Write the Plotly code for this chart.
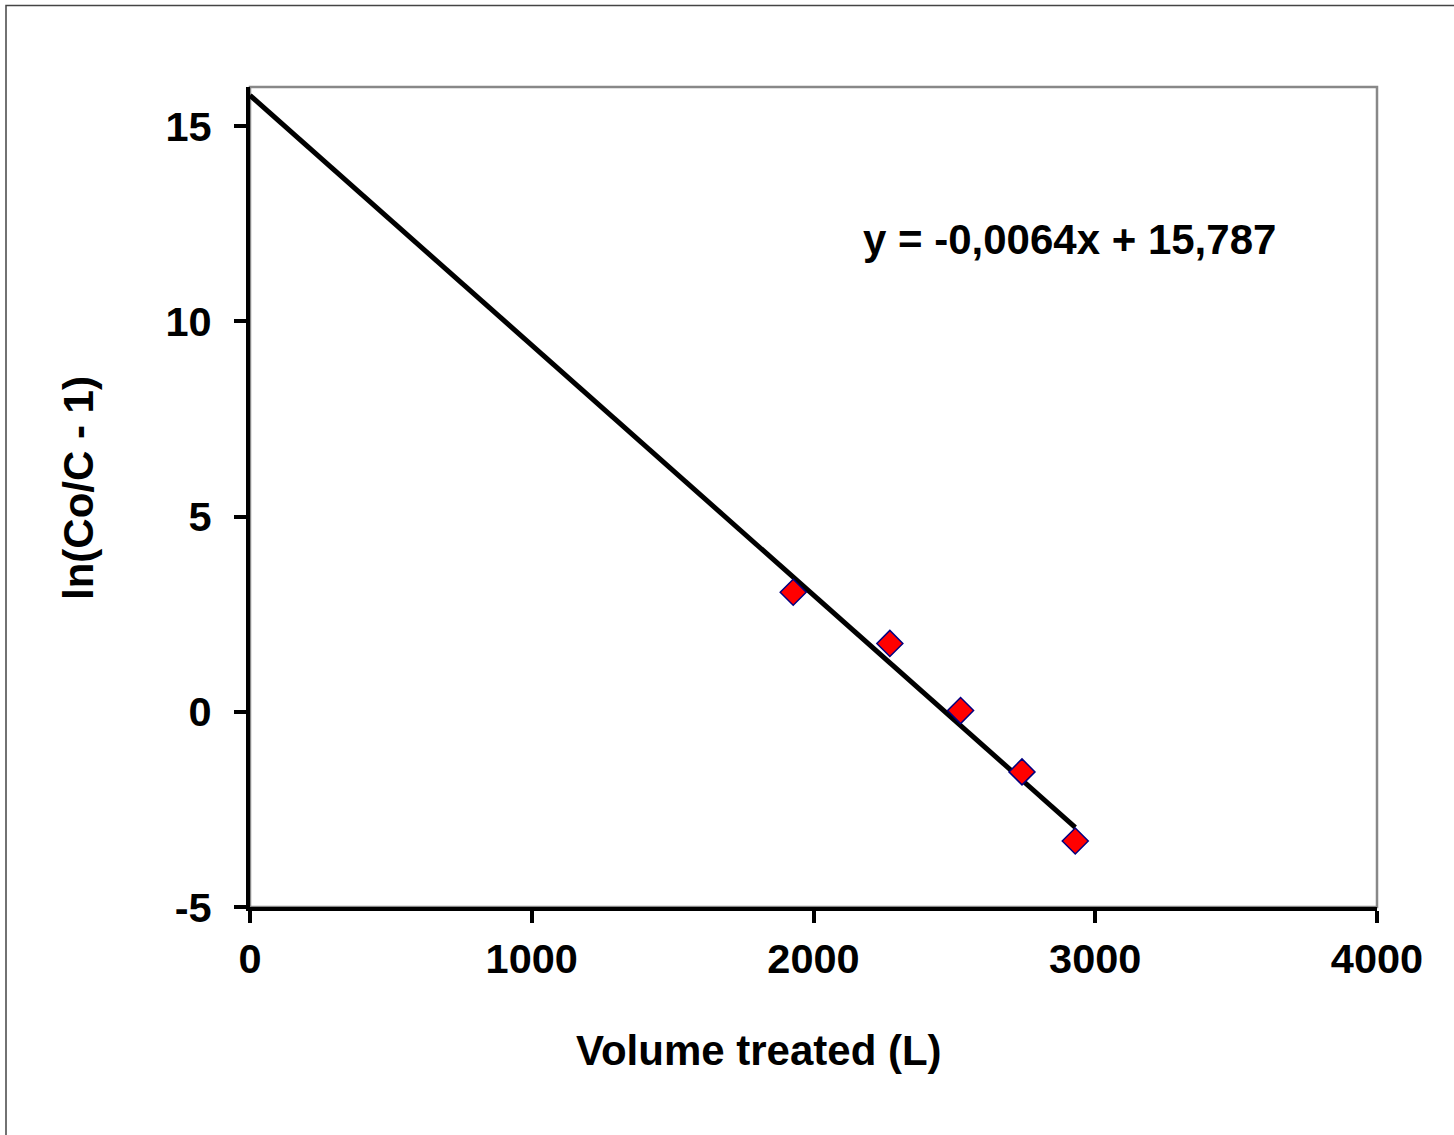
import plotly.graph_objects as go

# Data
volume = [1928, 2271, 2522, 2740, 2929]
ln_ratio = [3.06, 1.75, 0.03, -1.54, -3.31]

slope = -0.0064
intercept = 15.787
equation_text = "y = -0,0064x + 15,787"

x_ticks = [0, 1000, 2000, 3000, 4000]
x_tick_text = ["0", "1000", "2000", "3000", "4000"]
y_ticks = [-5, 0, 5, 10, 15]
y_tick_text = ["-5", "0", "5", "10", "15"]

x_title = "Volume treated (L)"
y_title = "ln(Co/C - 1)"

line_x = [0, max(volume)]
line_y = [slope * v + intercept for v in line_x]

FONT = "Arial, 'Liberation Sans', sans-serif"

fig = go.Figure()
fig.add_trace(go.Scatter(
    x=line_x, y=line_y, mode="lines",
    line=dict(color="black", width=5), showlegend=False, hoverinfo="skip"))
fig.add_trace(go.Scatter(
    x=volume, y=ln_ratio, mode="markers",
    marker=dict(symbol="diamond", size=20, color="#ff0000",
                line=dict(color="#000080", width=1.5)),
    showlegend=False))

W, H = 1454, 1135
L, R, T, B = 250, 77, 87, 228
pw, ph = W - L - R, H - T - B

def px_x(p):
    return (p - L) / pw

def px_y(p):
    return 1 - (p - T) / ph

tickfont = dict(family=FONT, size=41.5, weight="bold", color="black")
textfont = dict(family=FONT, size=42, weight="bold", color="black")

fig.update_layout(
    width=W, height=H,
    margin=dict(l=L, r=R, t=T, b=B, pad=0),
    paper_bgcolor="white", plot_bgcolor="white",
    font=dict(family=FONT, color="black"),
    xaxis=dict(
        range=[0, 4000], tickvals=x_ticks, ticktext=x_tick_text,
        showgrid=False, zeroline=False,
        showline=True, linecolor="black", linewidth=4,
        ticks="outside", ticklen=12, tickwidth=4, tickcolor="black",
        tickfont=tickfont, ticklabelstandoff=0,
    ),
    yaxis=dict(
        range=[-5, 16], tickvals=y_ticks, ticktext=y_tick_text,
        showgrid=False, zeroline=False,
        showline=True, linecolor="black", linewidth=4,
        ticks="outside", ticklen=12, tickwidth=4, tickcolor="black",
        tickfont=tickfont, ticklabelstandoff=14,
    ),
    shapes=[
        dict(type="rect", xref="paper", yref="paper", x0=0, x1=1, y0=0, y1=1,
             line=dict(color="#888888", width=2.5), layer="below"),
        dict(type="rect", xref="paper", yref="paper",
             x0=px_x(6), x1=px_x(1470), y0=px_y(1150), y1=px_y(5.5),
             line=dict(color="#444444", width=1.5), layer="below"),
    ],
    annotations=[
        dict(text=equation_text, xref="paper", yref="paper",
             x=px_x(1069), y=px_y(240), showarrow=False,
             xanchor="center", yanchor="middle", font=textfont),
        dict(text=x_title, xref="paper", yref="paper",
             x=px_x(759), y=px_y(1050), showarrow=False,
             xanchor="center", yanchor="middle", font=textfont),
        dict(text=y_title, xref="paper", yref="paper",
             x=px_x(78), y=px_y(488), showarrow=False, textangle=-90,
             xanchor="center", yanchor="middle", font=textfont),
    ],
)

fig.write_html("out.html")
